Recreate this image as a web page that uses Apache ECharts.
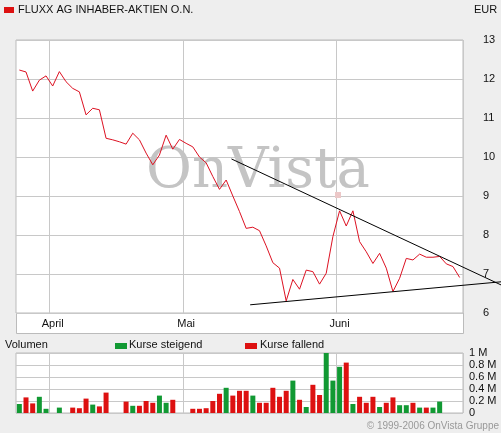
<!DOCTYPE html>
<html>
<head>
<meta charset="utf-8">
<script src="https://cdn.jsdelivr.net/npm/echarts@6/dist/echarts.min.js"></script>
<style>
  html, body { margin: 0; padding: 0; background: #eeeeee; }
  #chart { width: 501px; height: 433px; }
</style>
</head>
<body>
<div id="chart"></div>
<script>
// Kursdaten (ein Slot pro Handelstag)
var days = [];
for (var i = 0; i < 67; i++) days.push(i);
var monthLabels = { 5: 'April', 25: 'Mai', 48: 'Juni' };

var price = [12.23, 12.18, 11.69, 11.97, 12.08, 11.82, 12.19, 11.93, 11.76, 11.67,
  11.08, 11.25, 11.21, 10.48, 10.44, 10.39, 10.33, 10.61, 10.44, 10.1,
  9.8, 10.05, 10.56, 10.2, 10.45, 10.35, 10.26, 10.0, 9.85, 9.5,
  9.17, 9.41, 9.0, 8.6, 8.17, 8.2, 8.11, 7.72, 7.29, 7.15,
  6.31, 6.86, 6.61, 7.1, 7.06, 6.74, 7.02, 7.96, 8.62, 8.23,
  8.62, 7.83, 7.57, 7.27, 7.53, 7.15, 6.55, 6.89, 7.4, 7.36,
  7.51, 7.43, 7.43, 7.45, 7.26, 7.19, 6.91];

// Volumen in Mio; steigend / fallend
var volUp = [0.15, '-', '-', 0.27, 0.07, '-', 0.09, '-', '-', '-',
  '-', 0.14, '-', '-', '-', '-', '-', 0.12, '-', '-',
  '-', 0.29, 0.17, '-', '-', '-', '-', '-', '-', '-',
  '-', 0.42, '-', '-', '-', 0.29, '-', '-', '-', '-',
  '-', 0.54, '-', 0.1, '-', '-', 1.0, 0.54, 0.77, '-',
  0.15, '-', '-', '-', 0.1, '-', '-', 0.13, 0.13, '-',
  0.09, '-', 0.09, 0.19, '-', '-', '-'];
var volDown = ['-', 0.26, 0.16, '-', '-', '-', '-', '-', 0.09, 0.08,
  0.24, '-', 0.11, 0.34, '-', '-', 0.19, '-', 0.12, 0.2,
  0.17, '-', '-', 0.22, '-', '-', 0.07, 0.07, 0.08, 0.2,
  0.32, '-', 0.29, 0.37, 0.37, '-', 0.17, 0.17, 0.42, 0.27,
  0.37, '-', 0.22, '-', 0.47, 0.3, '-', '-', '-', 0.84,
  '-', 0.27, 0.17, 0.27, '-', 0.17, 0.26, '-', '-', 0.17,
  '-', 0.09, '-', '-', '-', '-', '-'];

// Trendlinien (x in Slots, y in EUR)
var trendUpper = [[32.3, 9.95], [72.7, 6.72]];
var trendLower = [[35.1, 6.21], [72.7, 6.80]];

var chart = echarts.init(document.getElementById('chart'));
var font = 'Liberation Sans, Arial, sans-serif';
var isMonth = function (idx) { return monthLabels[idx] !== undefined; };

var option = {
  animation: false,
  backgroundColor: '#eeeeee',
  textStyle: { fontFamily: font },
  graphic: [
    { type: 'rect', left: 16, top: 40, shape: { width: 447, height: 293 }, style: { fill: '#fff', stroke: '#bbb' }, z: -10 },
    { type: 'rect', left: 4, top: 7, shape: { width: 10, height: 6 }, style: { fill: '#dd1111' } },
    { type: 'text', left: 18, top: 4, style: { text: 'FLUXX AG INHABER-AKTIEN O.N.', font: '11px ' + font, fill: '#111' } },
    { type: 'text', left: 474, top: 4, style: { text: 'EUR', font: '11px ' + font, fill: '#111' } },
    { type: 'text', left: 146, top: 144, style: { text: 'OnVista', font: '56px "DejaVu Serif", serif', fill: '#c4c4c4' }, z: 1 },
    { type: 'rect', left: 335, top: 192, shape: { width: 6, height: 6 }, style: { fill: '#ecc8c8' }, z: 1 },
    { type: 'text', left: 5, top: 339, style: { text: 'Volumen', font: '11px ' + font, fill: '#111' } },
    { type: 'rect', left: 115, top: 343, shape: { width: 12, height: 6 }, style: { fill: '#119933' } },
    { type: 'text', left: 129, top: 339, style: { text: 'Kurse steigend', font: '11px ' + font, fill: '#111' } },
    { type: 'rect', left: 245, top: 343, shape: { width: 12, height: 6 }, style: { fill: '#dd1111' } },
    { type: 'text', left: 260, top: 339, style: { text: 'Kurse fallend', font: '11px ' + font, fill: '#111' } },
    { type: 'text', right: 2, top: 421, style: { text: '\u00a9 1999-2006 OnVista Gruppe', font: '10px ' + font, fill: '#999' } }
  ],
  grid: [
    { left: 16, top: 40, width: 447, height: 273, show: true, backgroundColor: '#fff', borderColor: '#bbb' },
    { left: 16, top: 353, width: 447, height: 60, show: true, backgroundColor: '#fff', borderColor: '#bbb' },
    { left: 16, top: 40, width: 485, height: 273, show: false }
  ],
  xAxis: [
    {
      type: 'category', gridIndex: 0, data: days, boundaryGap: true,
      axisLine: { show: false }, axisTick: { show: false },
      axisLabel: { interval: isMonth, formatter: function (v) { return monthLabels[v] || ''; }, fontSize: 11, color: '#111', margin: 5 },
      splitLine: { show: true, interval: isMonth, lineStyle: { color: '#c8c8c8' } }
    },
    {
      type: 'category', gridIndex: 1, data: days, boundaryGap: true,
      axisLine: { show: false }, axisTick: { show: false }, axisLabel: { show: false },
      splitLine: { show: true, interval: isMonth, lineStyle: { color: '#c8c8c8' } }
    },
    { type: 'value', gridIndex: 2, min: 0, max: 72.7, show: false }
  ],
  yAxis: [
    {
      type: 'value', gridIndex: 0, position: 'right', min: 6, max: 13, interval: 1,
      axisLine: { show: false }, axisTick: { show: false },
      axisLabel: { fontSize: 11, color: '#111', margin: 20 },
      splitLine: { lineStyle: { color: '#c8c8c8' } }
    },
    {
      type: 'value', gridIndex: 1, position: 'right', min: 0, max: 1, interval: 0.2,
      axisLine: { show: false }, axisTick: { show: false },
      axisLabel: { fontSize: 11, color: '#111', margin: 6, formatter: function (v) { return v === 0 ? '0' : (+v.toFixed(1)) + ' M'; } },
      splitLine: { lineStyle: { color: '#c8c8c8' } }
    },
    { type: 'value', gridIndex: 2, min: 6, max: 13, show: false }
  ],
  series: [
    { type: 'line', xAxisIndex: 0, yAxisIndex: 0, data: price, symbol: 'none', lineStyle: { color: '#dd1122', width: 1 }, z: 3 },
    { type: 'line', xAxisIndex: 2, yAxisIndex: 2, data: trendUpper, symbol: 'none', clip: false, lineStyle: { color: '#000', width: 1 }, z: 4 },
    { type: 'line', xAxisIndex: 2, yAxisIndex: 2, data: trendLower, symbol: 'none', clip: false, lineStyle: { color: '#000', width: 1 }, z: 4 },
    { type: 'bar', xAxisIndex: 1, yAxisIndex: 1, data: volUp, stack: 'v', barWidth: 5, itemStyle: { color: '#119933' } },
    { type: 'bar', xAxisIndex: 1, yAxisIndex: 1, data: volDown, stack: 'v', barWidth: 5, itemStyle: { color: '#dd1111' } }
  ]
};
chart.setOption(option);
</script>
</body>
</html>
